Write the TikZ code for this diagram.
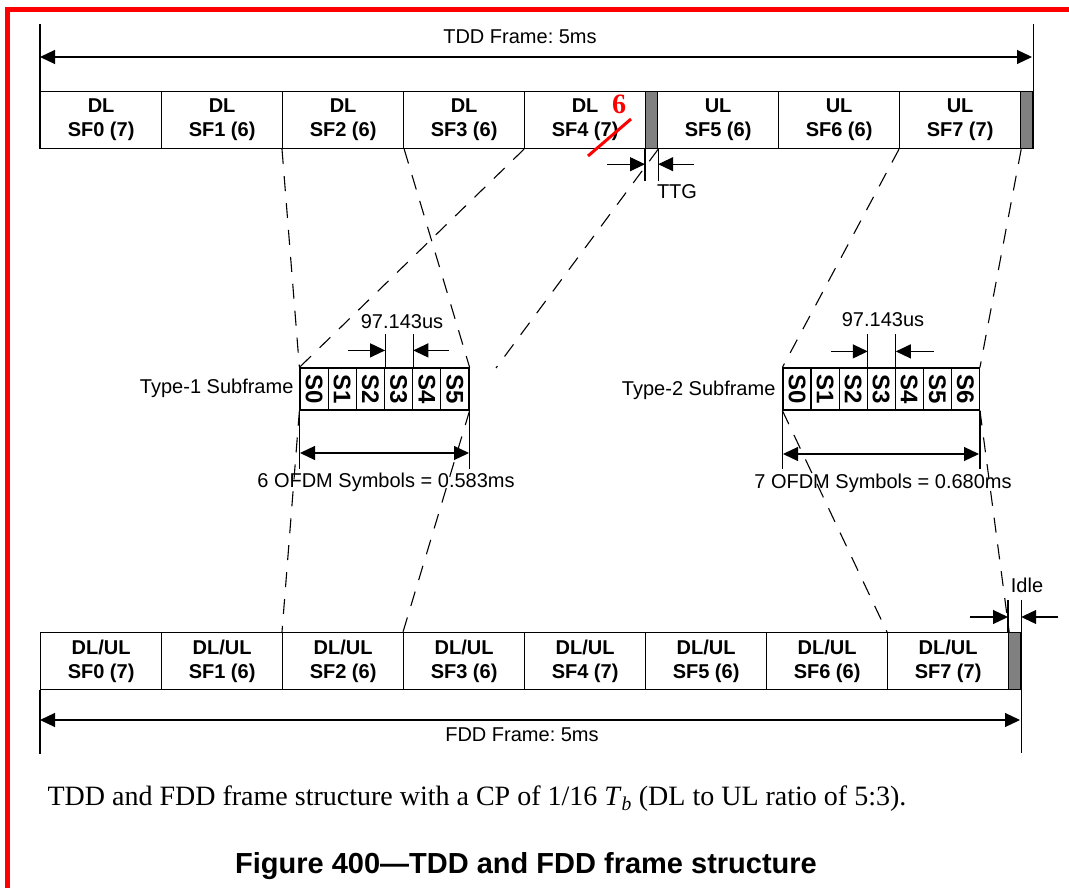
\documentclass[tikz,border=0pt]{standalone}
\usepackage{fontspec}
\usepackage{graphicx}
\setmainfont{Liberation Sans}
\newfontfamily\timesfont{Liberation Serif}
\usetikzlibrary{arrows.meta}
\frenchspacing
\begin{document}
\begin{tikzpicture}[>={Triangle[length=15pt,width=14pt]},x=1pt,y=-1pt,line width=1.2pt,
		sf/.style={draw,minimum width=121pt,minimum height=57pt,inner sep=0pt,anchor=north west,align=center,font=\bfseries\fontsize{20}{24}\selectfont},
		gapbox/.style={draw,fill=black!50,minimum width=12pt,minimum height=57pt,inner sep=0pt,anchor=north west},
		sym/.style={draw,minimum width=28.17pt,minimum height=42pt,inner sep=0pt,font=\bfseries\fontsize{24}{24}\selectfont},
		lbl/.style={font=\fontsize{20}{24}\selectfont,inner sep=0pt},
		proj/.style={dash pattern=on 15pt off 12pt,line width=1.1pt}]
	\useasboundingbox (0,0) rectangle (1069,888);
	% red frame of the scan
	\draw[red,line width=5pt] (5,9.5) -- (1069,9.5);
	\draw[red,line width=5pt] (7.5,7) -- (7.5,888);
	% TDD frame
	\foreach \i/\x/\d/\n in {0/40/DL/7,1/161/DL/6,2/282/DL/6,3/403/DL/6,4/524/DL/7,5/657/UL/6,6/778/UL/6,7/899/UL/7}
		\node[sf] (t\i) at (\x,91) {\d\\SF\i\ (\n)};
	\node[gapbox] (ttg) at (645,91) {};
	\node[gapbox] (tend) at (1020,91) {};
	\coordinate (ta) at (40,57);
	\coordinate (tb) at (1032,57);
	\draw (t0.south west) -- ++(0,-125);
	\draw (tend.south east) -- ++(0,-125);
	\draw[<->] (ta) -- (tb);
	\node[lbl] (tddlbl) at (520,37) {TDD Frame: 5ms};
	% correction on SF4
	\draw[red,line width=3pt] (588,156) -- (631,119);
	\node[red,inner sep=0pt,font=\timesfont\bfseries\fontsize{28}{28}\selectfont] (fix) at (619,104) {6};
	% TTG
	\draw (ttg.south west) -- ++(0,32);
	\draw (ttg.south east) -- ++(0,32);
	\draw[->] (ttg.south west) ++(-38,15) -- ++(38,0);
	\draw[->] (ttg.south east) ++(36,15) -- ++(-36,0);
	\node[lbl] (ttglbl) at (677,192) {TTG};
	% type-1 subframe
	\foreach \i in {0,...,5}
		\node[sym] (a\i) at ({314.08+28.17*\i},389) {\rotatebox{-90}{S\i}};
	\node[lbl,anchor=east] (alab) at (294,388) {Type-1 Subframe};
	\draw (a2.north east) -- ++(0,-33);
	\draw (a3.north east) -- ++(0,-33);
	\draw[->] (a2.north east) ++(-37,-17) -- ++(37,0);
	\draw[->] (a3.north east) ++(36,-17) -- ++(-36,0);
	\node[lbl] (asym) at (402,322) {97.143us};
	\draw (a0.south west) -- ++(0,58);
	\draw (a5.south east) -- ++(0,58);
	\coordinate (ad1) at (300,453);
	\coordinate (ad2) at (469,453);
	\draw[<->] (ad1) -- (ad2);
	\node[lbl] (alen) at (386,482) {6 OFDM Symbols = 0.583ms};
	% type-2 subframe
	\foreach \i in {0,...,6}
		\node[sym,minimum width=28.05pt] (b\i) at ({797.03+28.05*\i},389) {\rotatebox{-90}{S\i}};
	\node[lbl,anchor=east] (blab) at (776,390) {Type-2 Subframe};
	\draw (b2.north east) -- ++(0,-33);
	\draw (b3.north east) -- ++(0,-33);
	\draw[->] (b2.north east) ++(-37,-16) -- ++(37,0);
	\draw[->] (b3.north east) ++(38,-16) -- ++(-38,0);
	\node[lbl] (bsym) at (883,320) {97.143us};
	\draw (b0.south west) -- ++(0,58);
	\draw (b6.south east) -- ++(0,58);
	\coordinate (bd1) at (783,454);
	\coordinate (bd2) at (979,454);
	\draw[<->] (bd1) -- (bd2);
	\node[lbl] (blen) at (883,483) {7 OFDM Symbols = 0.680ms};
	% FDD frame
	\foreach \i/\n in {0/7,1/6,2/6,3/6,4/7,5/6,6/6,7/7}
		\node[sf] (f\i) at ({40+121*\i},632) {DL/UL\\SF\i\ (\n)};
	\node[gapbox] (idle) at (1008,632) {};
	\coordinate (fa) at (40,720);
	\coordinate (fb) at (1020,720);
	\draw (f0.south west) -- ++(0,64);
	\draw (idle.north east) ++(0,-32) -- ++(0,153);
	\draw (idle.north west) -- ++(0,-32);
	\draw[<->] (fa) -- (fb);
	\node[lbl] (fddlbl) at (522,735) {FDD Frame: 5ms};
	\draw[->] (idle.north west) ++(-38,-15) -- ++(38,0);
	\draw[->] (idle.north east) ++(37,-15) -- ++(-37,0);
	\node[lbl] (idlelbl) at (1027,585) {Idle};
	% projections
	\coordinate (ttgend) at (496,368);
	\draw[proj] (t2.south west) -- (a0.north west);
	\draw[proj] (t2.south east) -- (a5.north east);
	\draw[proj] (t4.south west) -- (a0.north west);
	\draw[proj] (ttg.south east) -- (ttgend);
	\draw[proj] (a0.south west) -- (f2.north west);
	\draw[proj] (a5.south east) -- (f3.north west);
	\draw[proj] (t7.south west) -- (b0.north west);
	\draw[proj] (t7.south east) -- (b6.north east);
	\draw[proj] (b0.south west) -- (f7.north west);
	\draw[proj] (b6.south east) -- (f7.north east);
	% caption
	\node[anchor=west,inner sep=0pt,font=\timesfont\fontsize{28}{32}\selectfont] (cap) at (47,799) {TDD and FDD frame structure with a CP of 1/16 \textit{T}\textsubscript{\textit{b}} (DL to UL ratio of 5:3).};
	\node[inner sep=0pt,font=\bfseries\fontsize{29}{32}\selectfont] (title) at (526,866) {Figure 400—TDD and FDD frame structure};
\end{tikzpicture}
\end{document}
